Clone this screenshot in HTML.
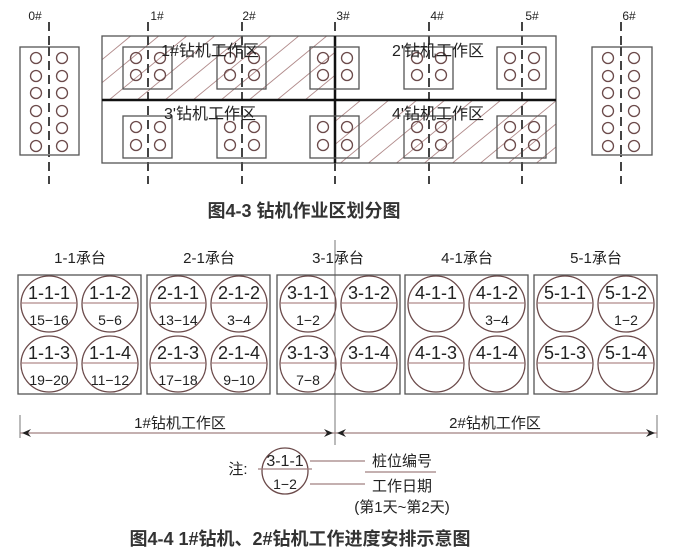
<!DOCTYPE html>
<html><head><meta charset="utf-8"><style>
html,body{margin:0;padding:0;background:#fff;}
svg{display:block;font-family:"Liberation Sans","Noto Sans CJK SC",sans-serif;}
</style></head><body>
<svg id="s" width="679" height="556" viewBox="0 0 679 556" xmlns="http://www.w3.org/2000/svg">
<defs>
<clipPath id="c1"><rect x="102" y="36" width="233" height="64"/></clipPath>
<clipPath id="c2"><rect x="335" y="100" width="221" height="63"/></clipPath>
</defs>
<g id="hatch" stroke="#b08a8a" stroke-width="0.9"></g>
<g id="shapes" fill="none" stroke="#555" stroke-width="1.3"></g>
<g fill="#222" font-size="15" text-anchor="middle">
<text x="35" y="20" font-size="12">0#</text>
<text x="157" y="20" font-size="12">1#</text>
<text x="249" y="20" font-size="12">2#</text>
<text x="343" y="20" font-size="12">3#</text>
<text x="437" y="20" font-size="12">4#</text>
<text x="532" y="20" font-size="12">5#</text>
<text x="629" y="20" font-size="12">6#</text>
<text x="210" y="56" font-size="16">1#钻机工作区</text>
<text x="438" y="56" font-size="16">2'钻机工作区</text>
<text x="210" y="119" font-size="16">3'钻机工作区</text>
<text x="438" y="119" font-size="16">4'钻机工作区</text>
<text x="304" y="217" font-size="18" font-weight="bold" fill="#333">图4-3  钻机作业区划分图</text>
<text x="80" y="263" font-size="15">1-1承台</text>
<text x="209" y="263" font-size="15">2-1承台</text>
<text x="338" y="263" font-size="15">3-1承台</text>
<text x="467" y="263" font-size="15">4-1承台</text>
<text x="596" y="263" font-size="15">5-1承台</text>
<text x="180" y="428" font-size="15">1#钻机工作区</text>
<text x="495" y="428" font-size="15">2#钻机工作区</text>
<text x="238" y="474" font-size="15">注:</text>
<text x="402" y="466" font-size="15">桩位编号</text>
<text x="402" y="491" font-size="15">工作日期</text>
<text x="402" y="512" font-size="15">(第1天~第2天)</text>
<text x="300" y="545" font-size="18" font-weight="bold" fill="#333">图4-4  1#钻机、2#钻机工作进度安排示意图</text>
</g>
<g id="labels" fill="#222" text-anchor="middle"></g>
</svg>
<script>
var NS="http://www.w3.org/2000/svg";
function el(p,t,a){var e=document.createElementNS(NS,t);for(var k in a)e.setAttribute(k,a[k]);document.getElementById(p).appendChild(e);return e;}
for(var i=-200;i<700;i+=28){
 el("hatch","line",{x1:i,y1:170,x2:i+170,y2:30,"clip-path":"url(#c1)"});
 el("hatch","line",{x1:i,y1:170,x2:i+170,y2:30,"clip-path":"url(#c2)"});
}
var axes=[49,148,242,335,429,522,621];
axes.forEach(function(x){el("shapes","line",{x1:x,y1:22,x2:x,y2:184,stroke:"#444","stroke-width":2,"stroke-dasharray":"9,5"});});
el("shapes","rect",{x:20,y:47,width:59,height:108,fill:"#fff"});
el("shapes","rect",{x:592,y:47,width:60,height:108,fill:"#fff"});
el("shapes","rect",{x:102,y:36,width:454,height:127});
el("shapes","line",{x1:102,y1:100,x2:556,y2:100,stroke:"#111","stroke-width":2.5});
el("shapes","line",{x1:335,y1:36,x2:335,y2:163,stroke:"#111","stroke-width":2.5});
[49,621].forEach(function(x){
 el("shapes","line",{x1:x,y1:47,x2:x,y2:155,stroke:"#444","stroke-width":2,"stroke-dasharray":"9,5"});
 [58,76,93,111,128,146].forEach(function(y){
  el("shapes","circle",{cx:x-13,cy:y,r:5.5,stroke:"#6b4a4a"});
  el("shapes","circle",{cx:x+13,cy:y,r:5.5,stroke:"#6b4a4a"});
 });
});
[148,242,335,429,522].forEach(function(x){
 [[47,58,75],[116,127,145]].forEach(function(r){
  el("shapes","rect",{x:x-25,y:r[0],width:49,height:42});
  el("shapes","circle",{cx:x-12,cy:r[1],r:5.5,stroke:"#6b4a4a"});
  el("shapes","circle",{cx:x+12,cy:r[1],r:5.5,stroke:"#6b4a4a"});
  el("shapes","circle",{cx:x-12,cy:r[2],r:5.5,stroke:"#6b4a4a"});
  el("shapes","circle",{cx:x+12,cy:r[2],r:5.5,stroke:"#6b4a4a"});
 });
});
el("shapes","line",{x1:335,y1:240,x2:335,y2:445,stroke:"#777","stroke-width":1});
var boxes=[18,147,277,405,534];
var dates={"1-1-1":"15−16","1-1-2":"5−6","1-1-3":"19−20","1-1-4":"11−12","2-1-1":"13−14","2-1-2":"3−4","2-1-3":"17−18","2-1-4":"9−10","3-1-1":"1−2","3-1-3":"7−8","4-1-2":"3−4","5-1-2":"1−2"};
boxes.forEach(function(bx,i){
 el("shapes","rect",{x:bx,y:275,width:123,height:119});
 var n=0;
 [304,364].forEach(function(cy){[bx+31,bx+92].forEach(function(cx){
  n++;
  el("shapes","circle",{cx:cx,cy:cy,r:28,stroke:"#6b4a4a"});
  el("shapes","line",{x1:cx-27,y1:cy-1,x2:cx+27,y2:cy-1,stroke:"#b08a8a","stroke-width":1.2});
  var id=(i+1)+"-1-"+n;
  var t=el("labels","text",{x:cx,y:cy-5,"font-size":18});t.textContent=id;
  if(dates[id]){var d=el("labels","text",{x:cx,y:cy+21,"font-size":14});d.textContent=dates[id];}
 });});
});
el("shapes","line",{x1:20,y1:415,x2:20,y2:438,stroke:"#777","stroke-width":1});
el("shapes","line",{x1:657,y1:415,x2:657,y2:438,stroke:"#777","stroke-width":1});
el("shapes","line",{x1:20,y1:433,x2:657,y2:433,stroke:"#a08080","stroke-width":1.2});
function arr(x,d){el("shapes","path",{d:"M"+x+",433 l"+(-9*d)+",-4 l"+(3*d)+",4 l"+(-3*d)+",4 z",fill:"#222",stroke:"none"});}
arr(22,-1);arr(333,1);arr(337,-1);arr(655,1);
el("shapes","circle",{cx:285,cy:471,r:23,stroke:"#6b4a4a"});
el("shapes","line",{x1:258,y1:469,x2:312,y2:469,stroke:"#a08080"});
el("shapes","line",{x1:310,y1:461,x2:365,y2:461,stroke:"#a08080"});
el("shapes","line",{x1:365,y1:472,x2:436,y2:472,stroke:"#a08080"});
el("shapes","line",{x1:310,y1:484,x2:365,y2:484,stroke:"#a08080"});
var a=el("labels","text",{x:285,y:466,"font-size":16});a.textContent="3-1-1";
var b=el("labels","text",{x:285,y:489,"font-size":14});b.textContent="1−2";
</script>
</body></html>
